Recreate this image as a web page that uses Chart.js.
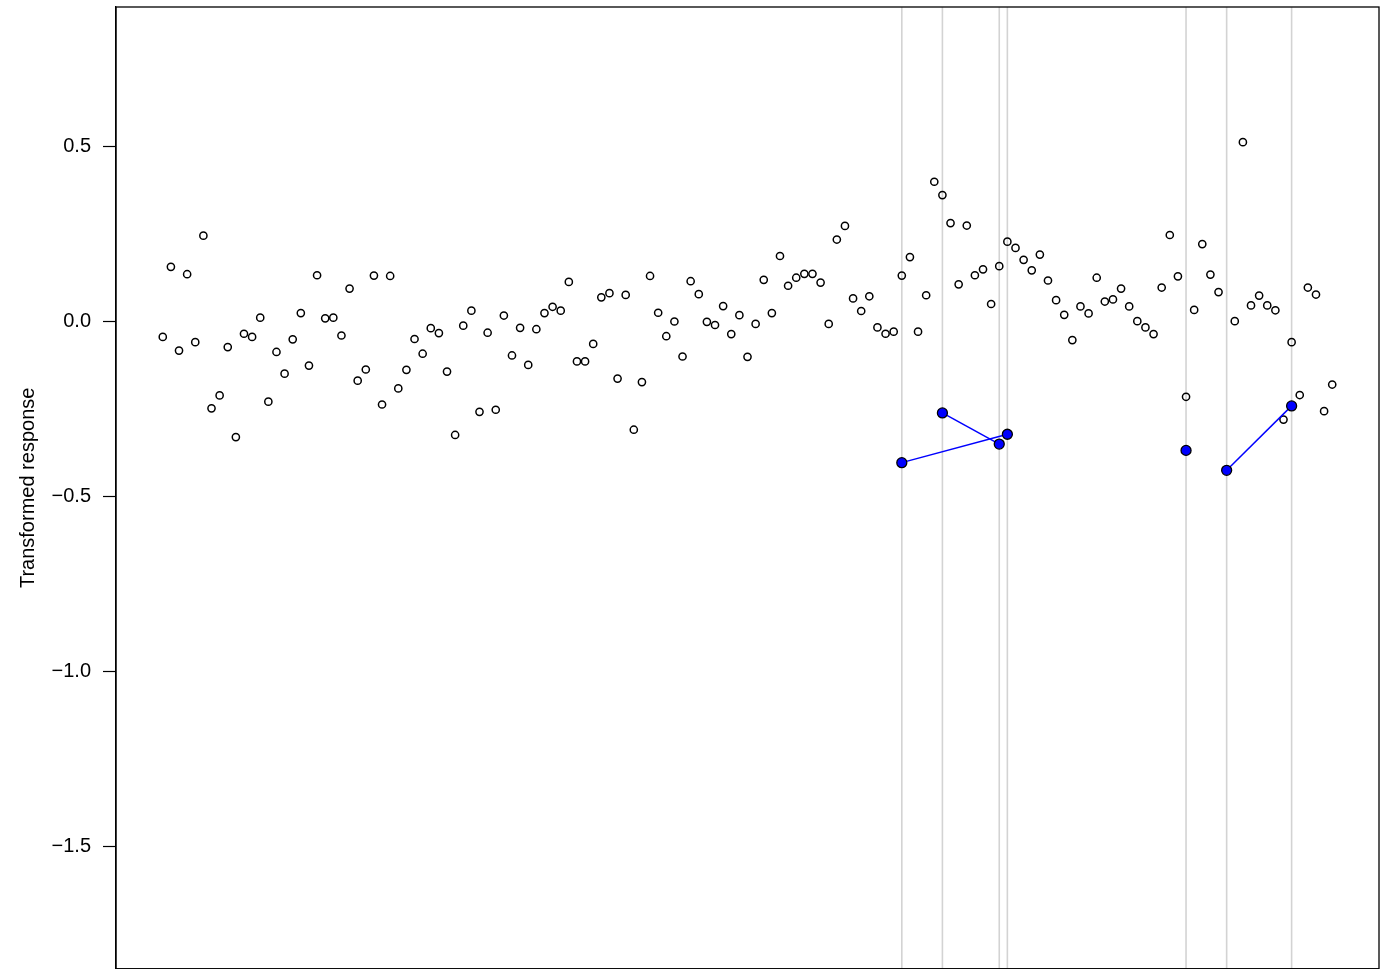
<!DOCTYPE html>
<html>
<head>
<meta charset="utf-8">
<script src="https://cdn.jsdelivr.net/npm/chart.js@4/dist/chart.umd.min.js"></script>
<style>
  html, body { margin: 0; background: #fff; overflow: hidden; }
  #wrap { width: 1395px; height: 975px; }
</style>
</head>
<body>
<div id="wrap"><canvas id="chart" width="1395" height="975"></canvas></div>
<script>
// observed responses, one per position 1..145 (null = missing)
const responses = [
  -0.045, 0.155, -0.084, 0.134, -0.060, 0.244, -0.249, -0.212, -0.074, -0.331,
  -0.036, -0.045, 0.010, -0.230, -0.088, -0.150, -0.052, 0.023, -0.127, 0.131,
  0.008, 0.010, -0.041, 0.093, -0.170, -0.138, 0.130, -0.238, 0.129, -0.192,
  -0.139, -0.051, -0.093, -0.020, -0.034, -0.144, -0.325, -0.013, 0.030, -0.259,
  -0.033, -0.253, 0.016, -0.098, -0.019, -0.125, -0.023, 0.023, 0.041, 0.030,
  0.112, -0.115, -0.115, -0.065, 0.068, 0.080, -0.164, 0.075, -0.310, -0.174,
  0.129, 0.024, -0.043, -0.001, -0.101, 0.114, 0.077, -0.002, -0.011, 0.043,
  -0.037, 0.017, -0.102, -0.008, 0.118, 0.023, 0.186, 0.101, 0.124, 0.135,
  0.135, 0.110, -0.008, 0.233, 0.272, 0.065, 0.029, 0.071, -0.018, -0.036,
  -0.030, 0.130, 0.183, -0.030, 0.074, 0.398, 0.360, 0.280, 0.105, 0.273,
  0.131, 0.148, 0.049, 0.157, 0.227, 0.209, 0.175, 0.145, 0.190, 0.116,
  0.060, 0.018, -0.054, 0.042, 0.022, 0.124, 0.056, 0.062, 0.093, 0.042,
  0.000, -0.018, -0.037, 0.096, 0.246, 0.128, -0.216, 0.032, 0.220, 0.133,
  0.083, null, 0.000, 0.511, 0.045, 0.073, 0.045, 0.031, -0.281, -0.060,
  -0.211, 0.096, 0.076, -0.257, -0.181
];

// highlighted positions and their values
const highlightIdx = [92, 97, 104, 105, 127, 132, 140];
const highlightVals = [-0.404, -0.262, -0.351, -0.323, -0.369, -0.426, -0.242];

// pairs of highlighted positions joined by a line
const links = [[92, 105], [97, 104], [132, 140]];

const yTicks = [-1.5, -1.0, -0.5, 0.0, 0.5];
const yMin = -1.849, yMax = 0.897;
const n = responses.length;
const xPad = 0.04 * (n - 1);

const openPts = responses.map((v, i) => ({ x: i + 1, y: v }));
const bluePts = highlightIdx.map((x, i) => ({ x, y: highlightVals[i] }));
const valAt = x => highlightVals[highlightIdx.indexOf(x)];

const datasets = [];

// grey vertical guides at highlighted positions
highlightIdx.forEach(x => {
  datasets.push({
    type: "line",
    data: [{ x, y: yMax }, { x, y: yMin }],
    borderColor: "#d3d3d3",
    borderWidth: 1.6,
    pointRadius: 0,
    fill: false,
    order: 3
  });
});

datasets.push({
  type: "scatter",
  data: openPts,
  pointStyle: "circle",
  pointRadius: 3.6,
  pointBorderWidth: 1.5,
  pointBorderColor: "#000",
  pointBackgroundColor: "rgba(255,255,255,0)",
  order: 2
});

links.forEach(([a, b]) => {
  datasets.push({
    type: "line",
    data: [{ x: a, y: valAt(a) }, { x: b, y: valAt(b) }],
    borderColor: "#0000ff",
    borderWidth: 1.5,
    pointRadius: 0,
    fill: false,
    order: 1
  });
});

datasets.push({
  type: "scatter",
  data: bluePts,
  pointRadius: 5,
  pointBorderWidth: 1.3,
  pointBorderColor: "#000",
  pointBackgroundColor: "#0000ff",
  order: 0
});

// box around plot region
const boxPlugin = {
  id: "box",
  afterDraw(chart) {
    const { ctx, chartArea: a } = chart;
    ctx.save();
    ctx.strokeStyle = "#000";
    ctx.lineWidth = 1.3;
    ctx.strokeRect(a.left, a.top, a.right - a.left, a.bottom - a.top);
    ctx.restore();
  }
};

new Chart(document.getElementById("chart").getContext("2d"), {
  data: { datasets },
  plugins: [boxPlugin],
  options: {
    responsive: false,
    animation: false,
    layout: { padding: { left: 0, top: 7, right: 16, bottom: 1 } },
    plugins: { legend: { display: false }, tooltip: { enabled: false } },
    scales: {
      x: {
        type: "linear",
        display: false,
        min: 1 - xPad,
        max: n + xPad
      },
      y: {
        type: "linear",
        min: yMin,
        max: yMax,
        afterBuildTicks: s => { s.ticks = yTicks.map(v => ({ value: v })); },
        afterFit: s => { s.width = 116; s.paddingTop = 0; s.paddingBottom = 0; },
        grid: { drawOnChartArea: false, tickLength: 13, color: "#000", tickWidth: 1.2 },
        border: { display: true, color: "#000", width: 1.3 },
        ticks: {
          color: "#000",
          padding: 12,
          font: { family: "Liberation Sans, Arial, sans-serif", size: 20 },
          callback: v => v.toFixed(1).replace("-", "\u2212")
        },
        title: {
          display: true,
          text: "Transformed response",
          color: "#000",
          padding: { top: 16, bottom: 0 },
          font: { family: "Liberation Sans, Arial, sans-serif", size: 20 }
        }
      }
    }
  }
});
</script>
</body>
</html>
